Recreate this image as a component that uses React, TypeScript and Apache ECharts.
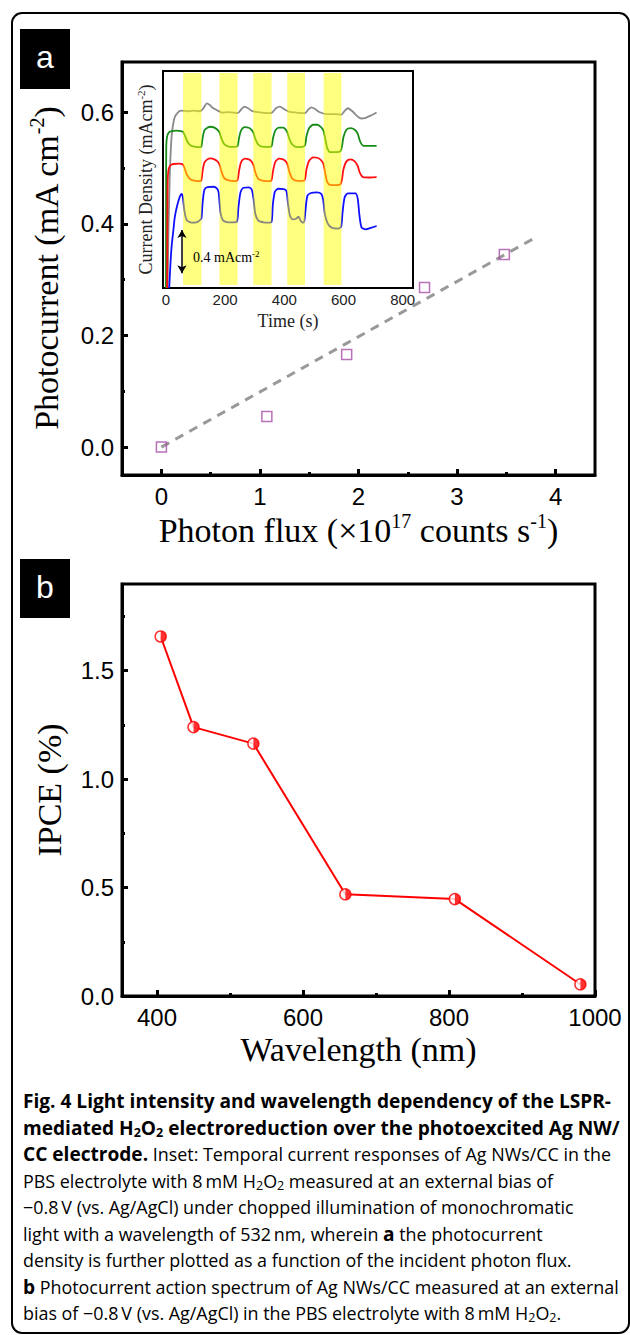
import React, { useEffect, useRef } from "react";
import * as echarts from "echarts";

const SERIF = '"Times New Roman", "Liberation Serif", serif';
const SANS = 'Arial, "Liberation Sans", sans-serif';
const CAPTION_FONT = '"Open Sans", "Noto Sans", sans-serif';

// ---------- Panel a: photocurrent vs photon flux ----------
const photonFlux = [0, 1.07, 1.88, 2.67, 3.48];
const photocurrent = [0.0, 0.055, 0.166, 0.286, 0.345];
const fitFlux = [0, 3.77];
const fitCurrent = [0, 0.373];
const fluxTicks = [0, 1, 2, 3, 4];
const fluxMinorTicks = [0.5, 1.5, 2.5, 3.5];
const currentTicks = [0, 0.2, 0.4, 0.6];
const currentMinorTicks = [0.1, 0.3, 0.5];

// ---------- Inset: chopped-light current transients ----------
const timeTicks = [0, 200, 400, 600, 800];
const densityTicks = [1, 2, 3, 4, 5, 6];
const lightStart = [58, 181, 295, 410, 533];
const lightEnd = [120, 242, 357, 470, 593];
const powerLabels = ["40 mW", "70 mW", "100 mW", "130 mW"];
const scaleBarTime = 54;
const scaleBarRange = [0.45, 1.76];

const trace40mW = [
  [5.6, 0], [8, 1.5], [11.3, 2.87], [14, 3.7], [19, 4.59], [24, 4.95], [30, 5.19], [40, 5.32], [50, 5.38],
  [65, 5.37], [80, 5.36], [95, 5.38], [110, 5.36], [120, 5.38], [130, 5.5], [138, 5.6], [148, 5.55],
  [160, 5.45], [175, 5.38], [190, 5.32], [210, 5.33], [230, 5.32], [242, 5.3], [255, 5.42], [265, 5.5],
  [278, 5.45], [290, 5.37], [310, 5.33], [330, 5.31], [350, 5.3], [360, 5.33], [372, 5.45], [385, 5.5],
  [400, 5.42], [415, 5.35], [440, 5.32], [470, 5.3], [480, 5.4], [492, 5.48], [505, 5.42], [520, 5.33],
  [545, 5.27], [570, 5.27], [593, 5.26], [605, 5.38], [615, 5.45], [630, 5.36], [645, 5.22], [660, 5.14],
  [675, 5.16], [695, 5.24], [712, 5.32],
];
const trace70mW = [
  [0, 0], [0.5, 3.0], [1, 4.3], [4, 4.6], [10, 4.72], [19, 4.76], [35, 4.77], [50, 4.76], [58, 4.73],
  [64, 4.62], [72, 4.45], [82, 4.33], [100, 4.28], [116, 4.27], [120, 4.3], [124, 4.55], [130, 4.78],
  [140, 4.86], [150, 4.89], [162, 4.87], [174, 4.8], [181, 4.72], [188, 4.52], [197, 4.36], [212, 4.29],
  [232, 4.28], [242, 4.3], [247, 4.55], [254, 4.78], [266, 4.88], [280, 4.86], [290, 4.79], [296, 4.7],
  [303, 4.5], [313, 4.34], [330, 4.28], [350, 4.28], [357, 4.3], [362, 4.55], [370, 4.78], [382, 4.86],
  [396, 4.86], [405, 4.8], [411, 4.7], [418, 4.5], [428, 4.34], [445, 4.27], [462, 4.28], [470, 4.33],
  [475, 4.6], [484, 4.85], [498, 4.95], [512, 4.95], [524, 4.88], [532, 4.78], [538, 4.55], [545, 4.25],
  [555, 4.12], [575, 4.12], [590, 4.15], [595, 4.3], [600, 4.58], [610, 4.8], [624, 4.85], [638, 4.8],
  [648, 4.68], [656, 4.45], [666, 4.32], [690, 4.31], [712, 4.31],
];
const trace100mW = [
  [4, 0], [5, 2.5], [6, 3.3], [9, 3.6], [15, 3.72], [25, 3.76], [45, 3.77], [56, 3.75], [62, 3.66],
  [70, 3.45], [82, 3.3], [100, 3.25], [116, 3.24], [120, 3.28], [124, 3.55], [130, 3.8], [140, 3.9],
  [150, 3.93], [162, 3.91], [174, 3.84], [181, 3.74], [188, 3.52], [197, 3.33], [212, 3.26], [232, 3.24],
  [242, 3.28], [247, 3.55], [254, 3.82], [266, 3.92], [280, 3.9], [290, 3.83], [296, 3.72], [303, 3.48],
  [313, 3.3], [330, 3.25], [350, 3.24], [357, 3.28], [362, 3.55], [370, 3.83], [382, 3.92], [396, 3.9],
  [405, 3.84], [411, 3.74], [418, 3.5], [428, 3.31], [445, 3.25], [462, 3.25], [470, 3.3], [475, 3.6],
  [484, 3.86], [498, 3.96], [512, 3.95], [524, 3.88], [532, 3.77], [538, 3.5], [545, 3.22], [555, 3.13],
  [575, 3.12], [590, 3.15], [595, 3.3], [600, 3.6], [610, 3.84], [624, 3.9], [638, 3.84], [648, 3.7],
  [656, 3.48], [666, 3.36], [690, 3.35], [712, 3.36],
];
const trace130mW = [
  [11, 0], [15, 0.7], [19, 1.25], [25, 1.75], [30, 2.16], [38, 2.5], [47, 2.77], [53, 2.85], [57, 2.75],
  [62, 2.36], [70, 2.06], [87, 1.98], [105, 2.0], [115, 2.06], [120, 2.12], [124, 2.6], [130, 2.98],
  [140, 3.06], [160, 3.07], [172, 3.02], [178, 2.9], [184, 2.3], [192, 2.06], [205, 2.0], [225, 1.99],
  [240, 2.02], [245, 2.45], [252, 2.9], [262, 3.04], [280, 3.05], [290, 2.98], [296, 2.7], [302, 2.25],
  [312, 2.04], [330, 1.99], [345, 1.98], [357, 2.01], [361, 2.5], [368, 2.92], [380, 3.01], [398, 3.0],
  [407, 2.94], [412, 2.6], [419, 2.2], [428, 2.08], [440, 2.1], [448, 2.16], [456, 2.03], [466, 1.98],
  [471, 2.3], [478, 2.8], [490, 2.88], [510, 2.9], [524, 2.86], [531, 2.7], [537, 2.25], [547, 1.95],
  [560, 1.83], [580, 1.8], [592, 1.86], [597, 2.3], [604, 2.75], [615, 2.87], [640, 2.87], [648, 2.72],
  [654, 2.2], [661, 1.84], [675, 1.78], [695, 1.83], [712, 1.88],
];

// ---------- Panel b: IPCE action spectrum ----------
const wavelength = [405, 450, 532, 658, 808, 980];
const ipce = [1.658, 1.24, 1.164, 0.469, 0.447, 0.054];
const wavelengthTicks = [400, 600, 800, 1000];
const wavelengthMinorTicks = [500, 700, 900];
const ipceTicks = [0, 0.5, 1.0, 1.5];
const ipceMinorTicks = [0.25, 0.75, 1.25, 1.75];

const serifRich = (size: number, sup: number, color = "#000") => ({
  n: { fontFamily: SERIF, fontSize: size, color, lineHeight: Math.round(size * 1.15), verticalAlign: "middle" },
  s: { fontFamily: SERIF, fontSize: sup, color, lineHeight: sup, verticalAlign: "top" },
});

function majorAxis(o: any) {
  return {
    type: "value",
    gridIndex: o.grid,
    min: o.min,
    max: o.max,
    position: o.position,
    axisLine: { show: true, onZero: false, lineStyle: { color: "#000", width: o.lw } },
    axisTick: {
      show: true,
      inside: true,
      length: o.tickLen,
      customValues: o.ticks,
      lineStyle: { color: "#000", width: o.tw },
    },
    axisLabel: o.labelSize
      ? {
          show: true,
          customValues: o.ticks,
          margin: o.margin,
          fontSize: o.labelSize,
          fontFamily: SANS,
          color: o.labelColor || "#000",
          formatter: o.fmt,
        }
      : { show: false },
    splitLine: { show: false },
    minorTick: { show: false },
    name: o.name,
    nameLocation: "middle",
    nameGap: o.nameGap,
    nameRotate: o.nameRotate,
    nameMoveOverlap: false,
    nameTextStyle: o.nameStyle,
  };
}

function minorAxis(o: any) {
  return {
    type: "value",
    gridIndex: o.grid,
    min: o.min,
    max: o.max,
    position: o.position,
    axisLine: { show: false, onZero: false },
    axisTick: {
      show: true,
      inside: true,
      length: o.tickLen,
      customValues: o.ticks,
      lineStyle: { color: "#000", width: o.tw },
    },
    axisLabel: { show: false },
    splitLine: { show: false },
  };
}

function captionLine(y: number, text: string) {
  const bold = { fontFamily: CAPTION_FONT, fontSize: 19.1, lineHeight: 22, verticalAlign: "middle" };
  const reg = { fontFamily: CAPTION_FONT, fontSize: 17.9, lineHeight: 22, verticalAlign: "middle" };
  const sub = { fontFamily: CAPTION_FONT, fontSize: 12.5, lineHeight: 12, verticalAlign: "bottom" };
  return {
    type: "text",
    x: 23,
    y,
    style: {
      text,
      align: "left",
      verticalAlign: "middle",
      textAlign: "left",
      textVerticalAlign: "middle",
      rich: {
        b: { ...bold, fontWeight: "bold", color: "#000" },
        r: { ...reg, fontWeight: "normal", color: "#231f20" },
        bs: { ...sub, fontWeight: "bold", color: "#000" },
        rs: { ...sub, fontWeight: "normal", color: "#231f20" },
      },
    },
  };
}

function plainText(x: number, y: number, text: string, size: number, family: string, color: string, align = "left", rich?: any) {
  return {
    type: "text",
    x,
    y,
    style: {
      text,
      fontSize: size,
      fontFamily: family,
      fill: color,
      align,
      verticalAlign: "middle",
      textAlign: align,
      textVerticalAlign: "middle",
      rich,
    },
  };
}

const captionRows = [
  "{b|Fig. 4 Light intensity and wavelength dependency of the LSPR-}",
  "{b|mediated H}{bs|2}{b|O}{bs|2}{b| electroreduction over the photoexcited Ag NW/}",
  "{b|CC electrode.}{r| Inset: Temporal current responses of Ag NWs/CC in the}",
  "{r|PBS electrolyte with 8\u2009mM H}{rs|2}{r|O}{rs|2}{r| measured at an external bias of}",
  "{r|\u22120.8\u2009V (vs. Ag/AgCl) under chopped illumination of monochromatic}",
  "{r|light with a wavelength of 532\u2009nm, wherein }{b|a}{r| the photocurrent}",
  "{r|density is further plotted as a function of the incident photon flux.}",
  "{b|b}{r| Photocurrent action spectrum of Ag NWs/CC measured at an external}",
  "{r|bias of \u22120.8\u2009V (vs. Ag/AgCl) in the PBS electrolyte with 8\u2009mM H}{rs|2}{r|O}{rs|2}{r|.}",
];

const traceColors = ["#8a8a8a", "#178c17", "#ff1010", "#1010ff"];
const traces = [trace40mW, trace70mW, trace100mW, trace130mW];
const labelYs = [102, 138, 168, 216];

function buildOption() {
  const fmt1 = (v: number) => v.toFixed(1);
  const fmtInt = (v: number) => String(Math.round(v));

  const xAxis = [
    majorAxis({
      grid: 0, min: -0.4, max: 4.4, position: "bottom", lw: 3, tw: 3, tickLen: 6, ticks: fluxTicks,
      labelSize: 24, margin: 9, fmt: fmtInt,
      name: "{n|Photon flux (\u00d710}{s|17}{n| counts s}{s|-1}{n|)}", nameGap: 36,
      nameStyle: { fontFamily: SERIF, fontSize: 34, rich: serifRich(34, 20) },
    }),
    minorAxis({ grid: 0, min: -0.4, max: 4.4, position: "bottom", tw: 3, tickLen: 3, ticks: fluxMinorTicks }),
    majorAxis({
      grid: 1, min: -10, max: 835, position: "bottom", lw: 2, tw: 1.2, tickLen: 3, ticks: timeTicks,
      labelSize: 15, margin: 4, fmt: fmtInt, labelColor: "#222",
      name: "Time (s)", nameGap: 24,
      nameStyle: { fontFamily: SERIF, fontSize: 18, color: "#222" },
    }),
    majorAxis({
      grid: 2, min: 352, max: 1000, position: "bottom", lw: 3, tw: 3, tickLen: 6, ticks: wavelengthTicks,
      labelSize: 24, margin: 9, fmt: fmtInt,
      name: "Wavelength (nm)", nameGap: 36,
      nameStyle: { fontFamily: SERIF, fontSize: 34, color: "#000" },
    }),
    minorAxis({ grid: 2, min: 352, max: 1000, position: "bottom", tw: 3, tickLen: 3, ticks: wavelengthMinorTicks }),
  ];

  const yAxis = [
    majorAxis({
      grid: 0, min: -0.05, max: 0.69, position: "left", lw: 3, tw: 3, tickLen: 6, ticks: currentTicks,
      labelSize: 24, margin: 8, fmt: fmt1,
      name: "{n|Photocurrent (mA cm}{s|-2}{n|)}", nameGap: 56, nameRotate: 90,
      nameStyle: { fontFamily: SERIF, fontSize: 34, rich: serifRich(34, 20) },
    }),
    minorAxis({ grid: 0, min: -0.05, max: 0.69, position: "left", tw: 3, tickLen: 3, ticks: currentMinorTicks }),
    majorAxis({
      grid: 1, min: 0, max: 6.58, position: "left", lw: 2, tw: 1.2, tickLen: 3, ticks: densityTicks,
      labelSize: 0,
      name: "{n|Current Density (mAcm}{s|-2}{n|)}", nameGap: 7, nameRotate: 90,
      nameStyle: { fontFamily: SERIF, fontSize: 18, rich: serifRich(18, 11, "#222") },
    }),
    majorAxis({
      grid: 2, min: 0, max: 1.9, position: "left", lw: 3, tw: 3, tickLen: 6, ticks: ipceTicks,
      labelSize: 24, margin: 8, fmt: fmt1,
      name: "IPCE (%)", nameGap: 56, nameRotate: 90,
      nameStyle: { fontFamily: SERIF, fontSize: 34, color: "#000" },
    }),
    minorAxis({ grid: 2, min: 0, max: 1.9, position: "left", tw: 3, tickLen: 3, ticks: ipceMinorTicks }),
  ];

  const insetSeries = traces.map((tr, i) => ({
    type: "line",
    xAxisIndex: 2,
    yAxisIndex: 2,
    data: tr,
    showSymbol: false,
    symbol: "none",
    smooth: 0.25,
    lineStyle: { color: traceColors[i], width: 1.8 },
    z: 3,
    silent: true,
    ...(i === 3
      ? {
          markArea: {
            silent: true,
            z: 10,
            itemStyle: { color: "rgba(255,255,0,0.5)", borderWidth: 0 },
            label: { show: false },
            data: lightStart.map((s, k) => [
              { xAxis: s, yAxis: 0.09 },
              { xAxis: lightEnd[k], yAxis: 6.52 },
            ]),
          },
        }
      : {}),
    ...(i === 0
      ? {
          markLine: {
            silent: true,
            z: 12,
            symbol: ["arrow", "arrow"],
            symbolSize: [7, 8],
            label: { show: false },
            lineStyle: { color: "#000", width: 1.5, type: "solid" },
            data: [[
              { coord: [scaleBarTime, scaleBarRange[0]] },
              { coord: [scaleBarTime, scaleBarRange[1]] },
            ]],
          },
        }
      : {}),
  }));

  const graphic: any[] = [
    {
      type: "rect",
      shape: { x: 12, y: 13, width: 617, height: 1320, r: 10 },
      style: { fill: "none", stroke: "#000", lineWidth: 2 },
    },
    { type: "rect", shape: { x: 20, y: 29, width: 50, height: 60 }, style: { fill: "#000" } },
    plainText(45, 57, "a", 32, SANS, "#fff", "center"),
    { type: "rect", shape: { x: 20, y: 559, width: 50, height: 59 }, style: { fill: "#000" } },
    plainText(45, 587, "b", 32, SANS, "#fff", "center"),
    ...powerLabels.map((t, i) => plainText(410, labelYs[i], t, 14, SERIF, traceColors[i], "right")),
    {
      type: "text",
      x: 193,
      y: 257,
      z: 20,
      style: {
        text: "{n|0.4 mAcm}{s|-2}",
        align: "left",
        verticalAlign: "middle",
        textAlign: "left",
        textVerticalAlign: "middle",
        rich: serifRich(14, 9, "#333"),
      },
    },
    ...captionRows.map((row, i) => captionLine(1101 + i * 26.5, row)),
  ];

  return {
    animation: false,
    backgroundColor: "#fff",
    grid: [
      { left: 122, top: 62, width: 473, height: 413, show: true, borderColor: "#000", borderWidth: 3, backgroundColor: "transparent", outerBoundsMode: "none", containLabel: false },
      { left: 163, top: 71, width: 250, height: 217, show: true, borderColor: "#000", borderWidth: 2, backgroundColor: "#fff", outerBoundsMode: "none", containLabel: false, z: 1 },
      { left: 122, top: 584, width: 473, height: 412, show: true, borderColor: "#000", borderWidth: 3, backgroundColor: "transparent", outerBoundsMode: "none", containLabel: false },
    ],
    xAxis,
    yAxis,
    series: [
      {
        type: "line",
        xAxisIndex: 0,
        yAxisIndex: 0,
        data: fitFlux.map((x, i) => [x, fitCurrent[i]]),
        symbol: "none",
        lineStyle: { color: "#999", width: 3, type: [9, 7] },
        z: 2,
        silent: true,
      },
      {
        type: "scatter",
        xAxisIndex: 0,
        yAxisIndex: 0,
        data: photonFlux.map((x, i) => [x, photocurrent[i]]),
        symbol: "rect",
        symbolSize: 10,
        itemStyle: { color: "rgba(255,255,255,0)", borderColor: "#a64ca8", borderWidth: 1.5 },
        z: 3,
        silent: true,
      },
      ...insetSeries,
      {
        type: "line",
        xAxisIndex: 3,
        yAxisIndex: 3,
        data: wavelength.map((x, i) => [x, ipce[i]]),
        symbol: "none",
        lineStyle: { color: "#ff0000", width: 2 },
        z: 2,
        silent: true,
      },
      {
        type: "scatter",
        xAxisIndex: 3,
        yAxisIndex: 3,
        data: wavelength.map((x, i) => [x, ipce[i]]),
        symbol: "circle",
        symbolSize: 11,
        itemStyle: { color: "#fff", borderColor: "#ff0000", borderWidth: 1.5 },
        z: 3,
        silent: true,
      },
      {
        type: "scatter",
        xAxisIndex: 3,
        yAxisIndex: 3,
        data: wavelength.map((x, i) => [x, ipce[i]]),
        symbol: "path://M0,0 A10,10 0 0 1 0,20 Z",
        symbolSize: [5.5, 11],
        symbolOffset: [2.75, 0],
        itemStyle: { color: "#ff0000" },
        z: 4,
        silent: true,
      },
    ],
    graphic,
  };
}

export default function App() {
  const ref = useRef<HTMLDivElement>(null);
  useEffect(() => {
    if (!ref.current) return;
    const chart = echarts.init(ref.current, null, { renderer: "svg" });
    chart.setOption(buildOption() as any);
    return () => chart.dispose();
  }, []);
  return (
    <div
      ref={ref}
      style={{ position: "absolute", left: 0, top: 0, width: 630, height: 1335, background: "#fff" }}
    />
  );
}
